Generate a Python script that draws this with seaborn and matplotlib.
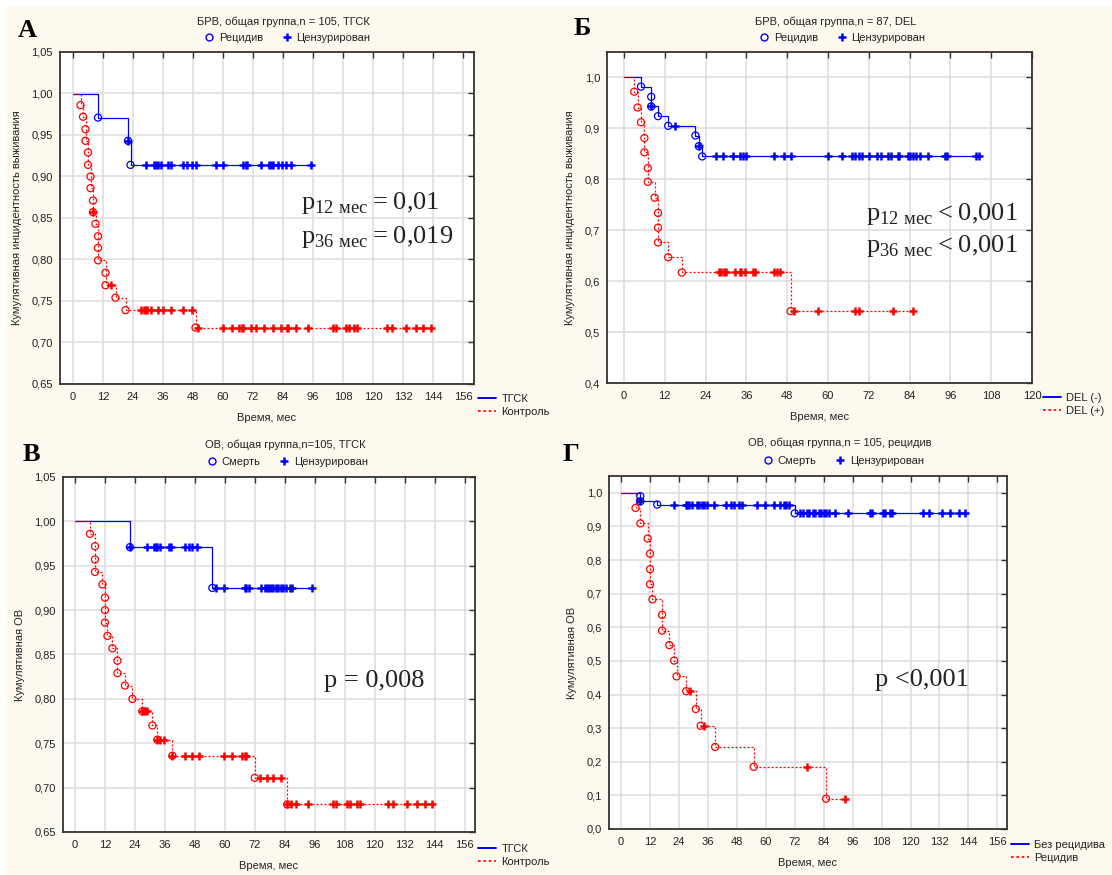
import numpy as np
import matplotlib
matplotlib.use("Agg")
import matplotlib.pyplot as plt
import seaborn as sns
from matplotlib.ticker import FuncFormatter
from matplotlib.lines import Line2D
from matplotlib.patches import Rectangle

# ---------------- data: months / cumulative proportion ----------------
# А: БРВ, ТГСК vs Контроль
a_tgsk_t = [10, 22, 23]
a_tgsk_s = [0.971, 0.943, 0.914]
a_tgsk_cens = [22, 29, 32.5, 33, 34, 35, 38, 39, 44, 45.5, 47.5, 49, 57, 60, 68, 69, 69.5,
               75, 78.5, 79, 80, 82, 83.5, 85, 87, 95]
a_ctrl_t = [3, 4, 5, 5, 6, 6, 7, 7, 8, 8, 9, 10, 10, 10, 13, 13, 17, 21, 49]
a_ctrl_s = [0.986, 0.972, 0.957, 0.943, 0.929, 0.914, 0.900, 0.886, 0.871, 0.857, 0.843,
            0.828, 0.814, 0.799, 0.784, 0.769, 0.754, 0.739, 0.718]
a_ctrl_cens = [8, 15, 27, 28.5, 29, 29.5, 31, 34, 36, 39, 44, 47.5, 50, 60, 63.5, 66.5, 67.5,
               68, 71, 73, 76.5, 80, 83, 85.5, 86, 89, 94, 104, 105, 109, 110.5, 112.5, 113.5,
               125.5, 127.5, 133, 137, 140, 143]

# Б: БРВ, DEL (-) vs DEL (+)
b_neg_t = [5, 8, 8, 10, 13, 21, 22, 23]
b_neg_s = [0.982, 0.962, 0.943, 0.924, 0.905, 0.886, 0.865, 0.845]
b_neg_cens = [8, 15, 22, 27, 29, 32, 34, 35, 36, 44, 47, 49, 60, 64, 67, 68, 69, 70, 72, 74.5,
              75.5, 77.5, 78.5, 80.5, 81, 83.5, 84, 85, 86, 87, 89.5, 94.5, 95, 103.5, 104.5]
b_pos_t = [3, 4, 5, 6, 6, 7, 7, 9, 10, 10, 10, 13, 17, 49]
b_pos_s = [0.972, 0.941, 0.912, 0.881, 0.853, 0.822, 0.795, 0.764, 0.734, 0.705, 0.676,
           0.647, 0.617, 0.541]
b_pos_cens = [28, 28.5, 29.5, 30, 32.5, 34, 34.5, 35.5, 38, 38.5, 44, 45, 46, 50, 57, 68, 69,
              79, 85]

# В: ОВ, ТГСК vs Контроль
c_tgsk_t = [22, 55]
c_tgsk_s = [0.971, 0.925]
c_tgsk_cens = [22, 29, 31.5, 32.5, 33, 34, 37.5, 38.5, 44, 45.5, 47, 49, 56.5, 59.5, 68, 68.5,
               69.5, 74.5, 76, 77, 77.5, 78.5, 79.5, 80.5, 81.5, 82.5, 83.5, 84.5, 86, 87, 95]
c_ctrl_t = [6, 8, 8, 8, 11, 12, 12, 12, 13, 15, 17, 17, 20, 23, 27, 31, 33, 39, 72, 85]
c_ctrl_s = [0.986, 0.972, 0.957, 0.943, 0.929, 0.914, 0.900, 0.886, 0.871, 0.857, 0.843,
            0.829, 0.815, 0.800, 0.786, 0.770, 0.754, 0.736, 0.711, 0.681]
c_ctrl_cens = [27, 27.5, 28, 29, 33, 34, 35.5, 39, 44, 47, 49.5, 59.5, 63, 67, 68, 68.5, 74,
               77, 79.5, 82.5, 85, 86.5, 88.5, 93.5, 103.5, 104.5, 109, 110, 113, 114, 125.5,
               127.5, 133, 137, 140, 143]

# Г: ОВ, без рецидива vs рецидив
d_norel_t = [8, 8, 15, 72]
d_norel_s = [0.990, 0.975, 0.965, 0.939]
d_norel_cens = [8, 22, 27, 27.5, 28, 29.5, 31.5, 32.5, 33.5, 34.5, 35.5, 38.5, 43.5, 45.5, 47,
                49, 50, 56.5, 59.5, 63.5, 66, 67.5, 68.5, 69.5, 74, 75.5, 77, 78, 79.5, 80.5,
                82, 83, 84, 85, 86, 88.5, 94, 103, 104, 108.5, 109.5, 111.5, 112.5, 125,
                127.5, 133, 136.5, 140, 142.5]
d_rel_t = [6, 8, 11, 12, 12, 12, 13, 17, 17, 20, 22, 23, 27, 31, 33, 39, 55, 85]
d_rel_s = [0.955, 0.909, 0.864, 0.819, 0.773, 0.728, 0.683, 0.637, 0.590, 0.547, 0.501,
           0.454, 0.410, 0.357, 0.307, 0.244, 0.185, 0.090]
d_rel_cens = [28.5, 34.5, 77, 93]

BLUE = '#0000ff'
RED = '#ff0000'
CREAM = '#fef9ee'
TXT = '#222222'
DASH = (0, (1.6, 1.6))
W, H = 1112, 875


def fx(px):
    return px / W


def fy(py):
    return 1 - py / H


def level_at(times, surv, t):
    idx = np.searchsorted(np.asarray(times), np.asarray(t), side='right')
    return np.asarray([1.0] + list(surv))[idx]


def draw_curve(ax, times, surv, cens, color, ls):
    end = max(max(cens), max(times))
    xs = [0] + list(times) + [end]
    ys = [1.0] + list(surv) + [surv[-1]]
    sns.lineplot(x=xs, y=ys, ax=ax, color=color, linestyle=ls, linewidth=0.9,
                 drawstyle='steps-post', sort=False, estimator=None, zorder=3)
    ax.scatter(times, surv, marker='o', s=26, facecolors='none', edgecolors=color,
               linewidths=0.9, zorder=4)
    sns.scatterplot(x=cens, y=level_at(times, surv, cens), ax=ax, marker='+', s=30,
                    color=color, linewidth=1.8, zorder=4)


panels = [
    dict(box=(60, 52, 474, 384), xlim=(-5.2, 160.4), xmax=156, ylim=(0.65, 1.05),
         yticks=np.arange(0.65, 1.051, 0.05), ydec=2,
         ylabel='Кумулятивная инцидентность выживания',
         title='БРВ, общая группа,n = 105, ТГСК', title_xy=(283, 22), mk_xy=(287, 38),
         ev_name='Рецидив',
         curves=[(a_tgsk_t, a_tgsk_s, a_tgsk_cens), (a_ctrl_t, a_ctrl_s, a_ctrl_cens)],
         names=('ТГСК', 'Контроль'), leg_xy=(478, 394), letter='А', letter_xy=(18, 37),
         ptext=[((301, 209), r'$\mathrm{p}_{\mathrm{12\ мес}}=0{,}01$'),
                ((301, 243), r'$\mathrm{p}_{\mathrm{36\ мес}}=0{,}019$')]),
    dict(box=(607, 52, 1032, 383), xlim=(-5, 120), xmax=120, ylim=(0.4, 1.05),
         yticks=np.arange(0.4, 1.01, 0.1), ydec=1,
         ylabel='Кумулятивная инцидентность выживания',
         title='БРВ, общая группа,n = 87, DEL', title_xy=(836, 22), mk_xy=(842, 38),
         ev_name='Рецидив',
         curves=[(b_neg_t, b_neg_s, b_neg_cens), (b_pos_t, b_pos_s, b_pos_cens)],
         names=('DEL (-)', 'DEL (+)'), leg_xy=(1043, 393), letter='Б', letter_xy=(574, 35),
         ptext=[((866, 220), r'$\mathrm{p}_{\mathrm{12\ мес}}<0{,}001$'),
                ((866, 252), r'$\mathrm{p}_{\mathrm{36\ мес}}<0{,}001$')]),
    dict(box=(63, 477, 475, 832), xlim=(-4.8, 160.2), xmax=156, ylim=(0.65, 1.05),
         yticks=np.arange(0.65, 1.051, 0.05), ydec=2,
         ylabel='Кумулятивная ОВ',
         title='ОВ, общая группа,n=105, ТГСК', title_xy=(285, 445), mk_xy=(287, 462),
         ev_name='Смерть',
         curves=[(c_tgsk_t, c_tgsk_s, c_tgsk_cens), (c_ctrl_t, c_ctrl_s, c_ctrl_cens)],
         names=('ТГСК', 'Контроль'), leg_xy=(478, 844), letter='В', letter_xy=(23, 461),
         ptext=[((324, 687), 'p = 0,008')]),
    dict(box=(609, 476, 1007, 829), xlim=(-5, 160), xmax=156, ylim=(0.0, 1.05),
         yticks=np.arange(0.0, 1.01, 0.1), ydec=1,
         ylabel='Кумулятивная ОВ',
         title='ОВ, общая группа,n = 105, рецидив', title_xy=(840, 443), mk_xy=(843, 461),
         ev_name='Смерть',
         curves=[(d_norel_t, d_norel_s, d_norel_cens), (d_rel_t, d_rel_s, d_rel_cens)],
         names=('Без рецидива', 'Рецидив'), leg_xy=(1011, 840), letter='Г',
         letter_xy=(563, 461),
         ptext=[((875, 686), 'p <0,001')]),
]

sns.set_style('white')
plt.rcParams['font.family'] = ['Liberation Sans', 'DejaVu Sans']
plt.rcParams['mathtext.fontset'] = 'custom'
plt.rcParams['mathtext.rm'] = 'Liberation Serif'

fig = plt.figure(figsize=(W / 100, H / 100), dpi=100, facecolor='white')
fig.patches.append(Rectangle((fx(6), 0), 1 - fx(6), fy(7), transform=fig.transFigure,
                             facecolor=CREAM, edgecolor='none', zorder=-10))

for p in panels:
    l, t, r, b = p['box']
    ax = fig.add_axes([fx(l), fy(b), fx(r - l), (b - t) / H])
    ax.set_facecolor('white')
    (t1, s1, c1), (t2, s2, c2) = p['curves']
    draw_curve(ax, t1, s1, c1, BLUE, '-')
    draw_curve(ax, t2, s2, c2, RED, DASH)

    ax.set_xlim(*p['xlim'])
    ax.set_ylim(*p['ylim'])
    ax.set_xticks(np.arange(0, p['xmax'] + 1, 12))
    ax.set_yticks(p['yticks'])
    dec = p['ydec']
    ax.yaxis.set_major_formatter(FuncFormatter(lambda v, _, d=dec: f'{v:.{d}f}'.replace('.', ',')))
    ax.grid(True, color='#dcdcdc', linewidth=1.1)
    ax.set_axisbelow(True)
    ax.tick_params(direction='in', length=4, width=1, color='#333333', top=True, right=True,
                   labelsize=8, labelcolor=TXT)
    ax.tick_params(axis='y', pad=5)
    ax.tick_params(axis='x', pad=6)
    for sp in ax.spines.values():
        sp.set_color('#333333')
        sp.set_linewidth(1.3)
    ax.set_xlabel('Время, мес', fontsize=8, color=TXT, labelpad=8)
    ax.set_ylabel(p['ylabel'], fontsize=8, color=TXT, labelpad=7)

    fig.text(fx(p['title_xy'][0]), fy(p['title_xy'][1]), p['title'], ha='center',
             va='center', fontsize=8, color=TXT)
    mk = [Line2D([], [], marker='o', ls='', mfc='none', mec=BLUE, ms=5, mew=1),
          Line2D([], [], marker='+', ls='', color=BLUE, ms=6, mew=1.8)]
    fig.legend(mk, [p['ev_name'], 'Цензурирован'], loc='center',
               bbox_to_anchor=(fx(p['mk_xy'][0]), fy(p['mk_xy'][1])), ncol=2,
               frameon=False, fontsize=8, handlelength=1, handletextpad=0.4,
               columnspacing=1.6, borderpad=0, labelcolor=TXT)
    ln = [Line2D([], [], color=BLUE, lw=1.4),
          Line2D([], [], color=RED, lw=1.2, ls=DASH)]
    fig.legend(ln, list(p['names']), loc='upper left',
               bbox_to_anchor=(fx(p['leg_xy'][0]), fy(p['leg_xy'][1])), frameon=False,
               fontsize=8, handlelength=1.6, handletextpad=0.5, labelspacing=0.3,
               borderpad=0, borderaxespad=0, labelcolor=TXT)

    fig.text(fx(p['letter_xy'][0]), fy(p['letter_xy'][1]), p['letter'], ha='left',
             va='baseline', fontsize=19, fontweight='bold', family='Liberation Serif',
             color='black')
    for (px, py), s in p['ptext']:
        fig.text(fx(px), fy(py), s, ha='left', va='baseline', fontsize=19,
                 family='Liberation Serif', color=TXT)

fig.savefig('out.png', dpi=100, facecolor=fig.get_facecolor())
